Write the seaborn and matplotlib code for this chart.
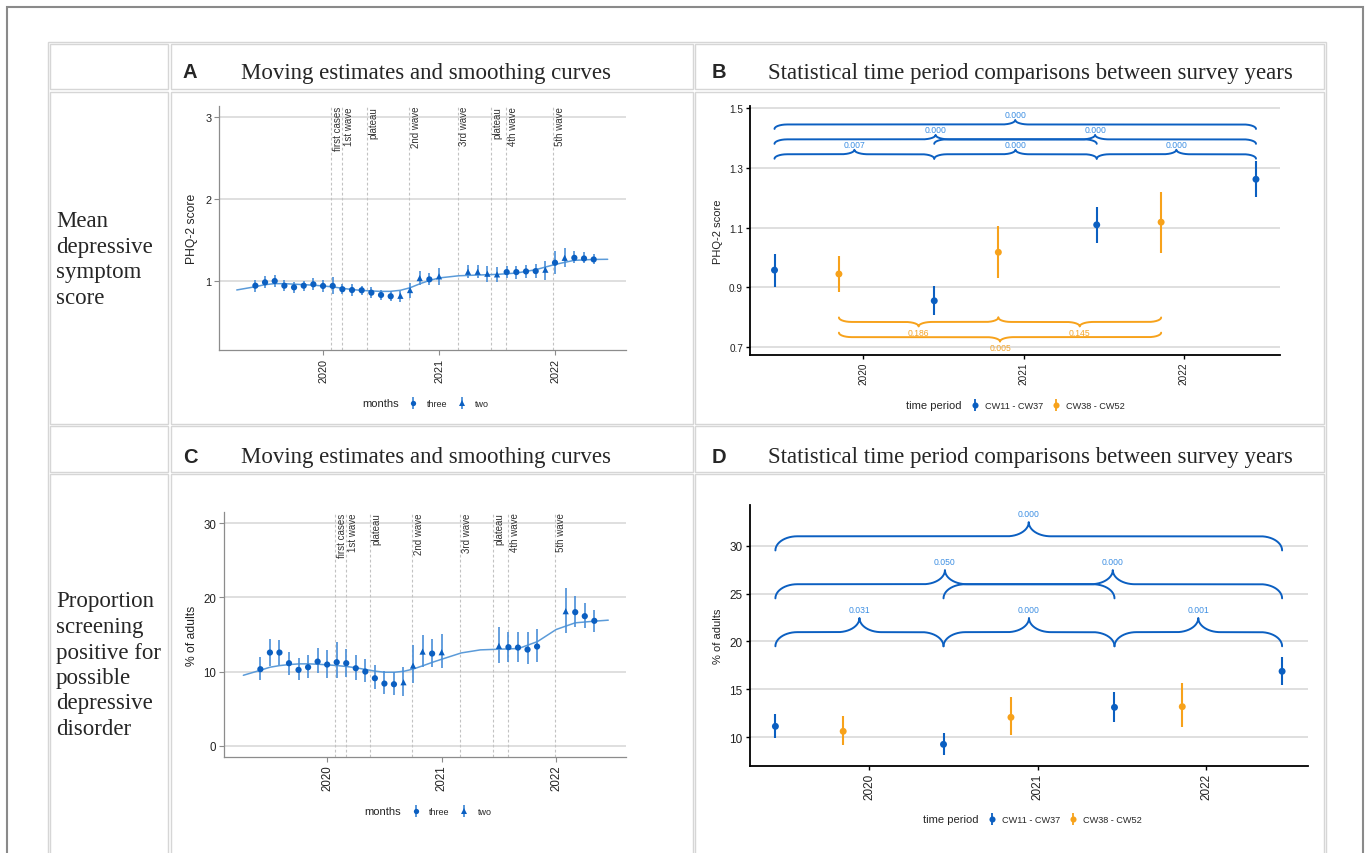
import numpy as np
import pandas as pd
import matplotlib
matplotlib.use("Agg")
import matplotlib.pyplot as plt
from matplotlib.lines import Line2D
from matplotlib.patches import Rectangle
import seaborn as sns

sns.set_theme(style="ticks")
plt.rcParams['font.family'] = ['Liberation Sans', 'DejaVu Sans']
SERIF = ['Liberation Serif', 'DejaVu Serif']

# ---------------- data ----------------
years = [2020, 2021, 2022]

# pandemic events (vertical dashed lines in A and C)
event_label = ['first cases', '1st wave', 'plateau', '2nd wave', '3rd wave', 'plateau', '4th wave', '5th wave']
event_date = ['2020-01-27', '2020-03-01', '2020-05-17', '2020-09-28', '2021-03-01', '2021-06-14', '2021-08-01', '2021-12-27']

# A: moving estimates of the mean PHQ-2 score
a_month = ['2019-06', '2019-07', '2019-08', '2019-09', '2019-10', '2019-11', '2019-12',
           '2020-01', '2020-02', '2020-03', '2020-04', '2020-05', '2020-06', '2020-07',
           '2020-08', '2020-09', '2020-10', '2020-11', '2020-12', '2021-01',
           '2021-04', '2021-05', '2021-06', '2021-07', '2021-08', '2021-09', '2021-10',
           '2021-11', '2021-12', '2022-01', '2022-02', '2022-03', '2022-04', '2022-05']
a_window = ['three'] * 15 + ['two', 'two', 'two', 'three', 'two',
                             'two', 'two', 'two', 'two', 'three', 'three', 'three',
                             'three', 'two', 'three', 'two', 'three', 'three', 'three']
a_mean = [0.943, 0.984, 1.000, 0.943, 0.923, 0.943, 0.960, 0.940, 0.940, 0.900, 0.890, 0.887,
          0.858, 0.830, 0.814, 0.820, 0.890, 1.036, 1.020, 1.057,
          1.113, 1.113, 1.089, 1.081, 1.109, 1.109, 1.117, 1.121, 1.138,
          1.223, 1.283, 1.283, 1.275, 1.263]
a_lo = [0.870, 0.911, 0.923, 0.874, 0.854, 0.883, 0.887, 0.862, 0.842, 0.838, 0.822, 0.830,
        0.794, 0.769, 0.757, 0.745, 0.794, 0.951, 0.951, 0.955,
        1.032, 1.040, 0.992, 0.992, 1.032, 1.028, 1.032, 1.036, 1.012,
        1.085, 1.174, 1.215, 1.215, 1.206]
a_hi = [1.016, 1.065, 1.073, 1.012, 0.992, 1.004, 1.032, 1.016, 1.053, 0.968, 0.960, 0.943,
        0.923, 0.891, 0.879, 0.883, 0.980, 1.117, 1.097, 1.158,
        1.194, 1.190, 1.182, 1.170, 1.186, 1.186, 1.198, 1.210, 1.250,
        1.368, 1.397, 1.364, 1.348, 1.328]
a_smooth_x = [2019.256, 2019.414, 2019.497, 2019.580, 2019.664, 2019.747, 2019.833, 2019.917,
              2020.000, 2020.083, 2020.167, 2020.250, 2020.330, 2020.414, 2020.497, 2020.580,
              2020.667, 2020.750, 2020.836, 2020.920, 2021.003, 2021.170, 2021.333, 2021.500,
              2021.667, 2021.833, 2022.000, 2022.164, 2022.330, 2022.454]
a_smooth_y = [0.891, 0.930, 0.955, 0.968, 0.968, 0.962, 0.956, 0.949, 0.940, 0.928, 0.912, 0.896,
              0.886, 0.879, 0.874, 0.874, 0.887, 0.918, 0.967, 1.008, 1.038, 1.064, 1.073, 1.081,
              1.097, 1.138, 1.202, 1.252, 1.263, 1.265]

# C: moving estimates of % screening positive
c_month = ['2019-06', '2019-07', '2019-08', '2019-09', '2019-10', '2019-11', '2019-12',
           '2020-01', '2020-02', '2020-03', '2020-04', '2020-05', '2020-06', '2020-07',
           '2020-08', '2020-09', '2020-10', '2020-11', '2020-12', '2021-01',
           '2021-07', '2021-08', '2021-09', '2021-10', '2021-11',
           '2022-02', '2022-03', '2022-04', '2022-05']
c_window = ['three'] * 15 + ['two', 'two', 'two', 'three', 'two',
                             'two', 'three', 'three', 'three', 'three',
                             'two', 'three', 'three', 'three']
c_mean = [10.32, 12.57, 12.57, 11.13, 10.23, 10.59, 11.35, 10.95, 11.26, 11.13, 10.45, 10.00,
          9.10, 8.38, 8.29, 8.56, 10.81, 12.70, 12.43, 12.61,
          13.47, 13.29, 13.24, 12.97, 13.38, 18.15, 18.02, 17.48, 16.85]
c_lo = [8.80, 10.80, 10.90, 9.60, 8.80, 9.10, 9.80, 9.19, 9.10, 9.23, 8.90, 8.56,
        7.66, 6.98, 6.80, 6.71, 8.47, 10.68, 10.59, 10.54,
        11.20, 11.35, 11.31, 11.00, 11.35, 15.27, 16.08, 15.90, 15.36]
c_hi = [12.00, 14.40, 14.30, 12.70, 11.80, 12.20, 13.20, 12.97, 14.00, 13.06, 12.30, 11.67,
        10.90, 10.10, 10.00, 10.63, 13.65, 14.95, 14.46, 15.05,
        15.95, 15.36, 15.36, 15.40, 15.77, 21.26, 20.14, 19.23, 18.33]
c_smooth_x = [2019.268, 2019.417, 2019.501, 2019.586, 2019.671, 2019.755, 2019.840, 2019.921,
              2020.006, 2020.087, 2020.172, 2020.257, 2020.338, 2020.423, 2020.504, 2020.589,
              2020.673, 2020.755, 2020.840, 2020.921, 2021.009, 2021.172, 2021.338, 2021.501,
              2021.671, 2021.837, 2022.000, 2022.166, 2022.332, 2022.455]
c_smooth_y = [9.50, 10.18, 10.59, 10.81, 10.95, 11.04, 11.04, 10.99, 10.90, 10.81, 10.68, 10.50,
              10.27, 10.05, 9.91, 9.91, 10.05, 10.36, 10.81, 11.26, 11.71, 12.52, 12.93, 13.02,
              13.11, 14.05, 15.68, 16.58, 16.80, 16.94]

# B / D: period comparisons between survey years
cmp_date = [2019.445, 2019.847, 2020.442, 2020.842, 2021.456, 2021.858, 2022.450]
cmp_period = ['CW11 - CW37', 'CW38 - CW52'] * 3 + ['CW11 - CW37']
b_mean = [0.957, 0.944, 0.854, 1.017, 1.109, 1.118, 1.262]
b_lo = [0.900, 0.883, 0.807, 0.929, 1.047, 1.013, 1.203]
b_hi = [1.011, 1.006, 0.902, 1.104, 1.170, 1.220, 1.322]
d_mean = [11.15, 10.63, 9.27, 12.09, 13.13, 13.20, 16.89]
d_lo = [9.97, 9.17, 8.19, 10.24, 11.63, 11.08, 15.46]
d_hi = [12.43, 12.23, 10.42, 14.17, 14.70, 15.67, 18.39]

# brace comparisons: start point, end point, stacking row, p-value
b_from = [0, 2, 4, 0, 2, 0, 1, 3, 1]
b_to = [2, 4, 6, 4, 6, 6, 3, 5, 5]
b_row = [0, 0, 0, 1, 1, 2, 0, 0, 1]
b_p = ['0.007', '0.000', '0.000', '0.000', '0.000', '0.000', '0.186', '0.145', '0.005']
d_from = [0, 2, 4, 0, 2, 0]
d_to = [2, 4, 6, 4, 6, 6]
d_row = [0, 0, 0, 1, 1, 2]
d_p = ['0.031', '0.000', '0.001', '0.050', '0.000', '0.000']

panel_letter = ['A', 'B', 'C', 'D']
panel_title = ['Moving estimates and smoothing curves',
               'Statistical time period comparisons between survey years',
               'Moving estimates and smoothing curves',
               'Statistical time period comparisons between survey years']
row_text = [['Mean', 'depressive', 'symptom', 'score'],
            ['Proportion', 'screening', 'positive for', 'possible', 'depressive', 'disorder']]

# ---------------- style ----------------
BLUE = '#0b5fc1'
CI_BLUE = '#4a8fd8'
CURVE = '#5b9bd9'
ORANGE = '#f7a21b'
LBL_BLUE = '#3d8fe3'
LBL_ORANGE = '#f5a52a'
PAL = {'CW11 - CW37': BLUE, 'CW38 - CW52': ORANGE}

W, H = 1370, 854
fig = plt.figure(figsize=(W / 100, H / 100), dpi=100)


def fx(x):
    return x / W


def fy(y):
    return 1 - y / H


def add_ax(left, top, right, bottom):
    return fig.add_axes([fx(left), fy(bottom), (right - left) / W, (bottom - top) / H])


def box(x0, y0, x1, y1, color, lw):
    fig.add_artist(Rectangle((fx(x0), fy(y1)), (x1 - x0) / W, (y1 - y0) / H,
                             transform=fig.transFigure, fill=False, ec=color, lw=lw))


def month_to_year(m):
    y, mo = m.split('-')
    return int(y) + (int(mo) - 1) / 12


def date_to_year(s):
    t = pd.Timestamp(s)
    return t.year + (t.dayofyear - 1) / 365


# ---------------- table frame ----------------
box(7, 8, 1363, 900, '#8a8a8a', 1.5)
box(48, 43, 1326, 900, '#d6d6d6', 1.0)
cols = [(50, 167.5), (170.5, 692.5), (695, 1324)]
rows = [(45, 90), (92.5, 424.5), (427, 472.5), (475, 900)]
for y0, y1 in rows:
    for x0, x1 in cols:
        box(x0, y0, x1, y1, '#d6d6d6', 1.0)

head_pos = [(183, 241, 78.5), (712, 768, 78.5), (183, 241, 463.3), (712, 768, 463.3)]
for letter, title, (lx, tx, base) in zip(panel_letter, panel_title, head_pos):
    fig.text(fx(lx), fy(base), letter, fontsize=14.5, fontweight='bold', va='baseline', ha='left')
    fig.text(fx(tx), fy(base), title, fontsize=16.5, family=SERIF, va='baseline', ha='left')

for lines, base in zip(row_text, [227.3, 607.5]):
    for i, line in enumerate(lines):
        fig.text(fx(56), fy(base + i * 25.5), line, fontsize=16.5, family=SERIF,
                 va='baseline', ha='left')


# ---------------- panels ----------------
def legend_handle(color, line_color, marker, ms, bar_ms):
    return (Line2D([], [], ls='none', marker='|', ms=bar_ms, mew=1.3, color=line_color),
            Line2D([], [], ls='none', marker=marker, ms=ms, color=color, mew=0))


def moving_panel(ax, months, window, mean, lo, hi, sm_x, sm_y, xlim, ylim, yticks,
                 ylabel, ylab_x, leg_xy, tick_size):
    d = pd.DataFrame({'date': [month_to_year(m) for m in months], 'mean': mean,
                      'lo': lo, 'hi': hi, 'months': window})
    for name, day in zip(event_label, event_date):
        x0 = date_to_year(day)
        ax.axvline(x0, color='#c2c2c2', lw=0.8, ls=(0, (2.5, 2)), zorder=1)
        ax.annotate(name, (x0, 1), xycoords=('data', 'axes fraction'), xytext=(1.2, 0),
                    textcoords='offset points', rotation=90, ha='left', va='top',
                    fontsize=7, color='#333333')
    sns.lineplot(x=sm_x, y=sm_y, ax=ax, color=CURVE, lw=1.1, zorder=2)
    ax.vlines(d['date'], d['lo'], d['hi'], color=CI_BLUE, lw=1.2, zorder=3)
    sns.scatterplot(data=d, x='date', y='mean', style='months',
                    markers={'three': 'o', 'two': '^'}, color=BLUE, s=20, linewidth=0,
                    ax=ax, legend=False, zorder=4)
    ax.set_xlim(xlim)
    ax.set_ylim(ylim)
    ax.set_xticks(years)
    ax.set_xticklabels([str(y) for y in years], rotation=90)
    ax.set_yticks(yticks)
    ax.grid(axis='y', color='#d6d6d6', lw=1.1)
    ax.set_axisbelow(True)
    for s in ['top', 'right']:
        ax.spines[s].set_visible(False)
    for s in ['left', 'bottom']:
        ax.spines[s].set_color('#8c8c8c')
        ax.spines[s].set_linewidth(0.9)
    ax.tick_params(axis='both', length=3.5, width=0.8, color='#8c8c8c',
                   labelsize=tick_size, labelcolor='#222222', pad=2)
    ax.set_xlabel('')
    ax.set_ylabel(ylabel, fontsize=8.7, color='#222222')
    ax.yaxis.set_label_coords(ylab_x, 0.5)
    handles = [Line2D([], [], ls='none'),
               legend_handle(BLUE, CI_BLUE, 'o', 3.8, 8),
               legend_handle(BLUE, CI_BLUE, '^', 4.2, 8)]
    leg = ax.legend(handles, ['months', 'three', 'two'], ncol=3, loc='center',
                    bbox_to_anchor=leg_xy, frameon=False, fontsize=6.5,
                    handlelength=1.0, handletextpad=1.0, columnspacing=1.1)
    leg.get_texts()[0].set_fontsize(8)


def draw_brace(ax, x0, x1, y_end, height, r_end, r_tip, color, up):
    s = 1 if up else -1
    xm = (x0 + x1) / 2
    h2 = height / 2
    t = np.linspace(0, np.pi / 2, 40)
    ex = x0 + r_end - r_end * np.cos(t)
    ey = y_end + s * h2 * np.sin(t)
    tx = xm - r_tip + r_tip * np.sin(t)
    ty = y_end + s * (height - h2 * np.cos(t))
    lx = np.concatenate([ex, tx])
    ly = np.concatenate([ey, ty])
    ax.plot(np.concatenate([lx, (2 * xm - lx)[::-1]]), np.concatenate([ly, ly[::-1]]),
            color=color, lw=1.4, solid_capstyle='round', zorder=2)
    return xm, y_end + s * height


def compare_panel(ax, mean, lo, hi, xlim, ylim, yticks, ylabel, ylab_x, leg_xy,
                  tick_size, br_from, br_to, br_row, br_p, levels, height, gap,
                  r_end, r_tip, down_levels=None):
    d = pd.DataFrame({'date': cmp_date, 'period': cmp_period, 'mean': mean, 'lo': lo, 'hi': hi})
    for a, b, r, p in zip(br_from, br_to, br_row, br_p):
        up = d['period'][a] == 'CW11 - CW37'
        base = levels[r] if up else down_levels[r]
        xm, tip = draw_brace(ax, d['date'][a], d['date'][b], base, height, r_end, r_tip,
                             BLUE if up else ORANGE, up)
        ax.text(xm, tip + (gap if up else -gap), p, ha='center',
                va='bottom' if up else 'top', fontsize=6.2,
                color=LBL_BLUE if up else LBL_ORANGE)
    ax.vlines(d['date'], d['lo'], d['hi'], colors=[PAL[p] for p in d['period']], lw=1.5, zorder=3)
    sns.scatterplot(data=d, x='date', y='mean', hue='period', palette=PAL, s=25,
                    linewidth=0, ax=ax, legend=False, zorder=4)
    ax.set_xlim(xlim)
    ax.set_ylim(ylim)
    ax.set_xticks(years)
    ax.set_xticklabels([str(y) for y in years], rotation=90)
    ax.set_yticks(yticks)
    ax.grid(axis='y', color='#d6d6d6', lw=1.1)
    ax.set_axisbelow(True)
    for s in ['top', 'right']:
        ax.spines[s].set_visible(False)
    for s in ['left', 'bottom']:
        ax.spines[s].set_color('black')
        ax.spines[s].set_linewidth(1.3)
    ax.tick_params(axis='both', length=3, width=1.0, color='black',
                   labelsize=tick_size, labelcolor='#222222', pad=2)
    ax.set_xlabel('')
    ax.set_ylabel(ylabel, fontsize=8, color='#222222')
    ax.yaxis.set_label_coords(ylab_x, 0.5)
    handles = [Line2D([], [], ls='none'),
               legend_handle(BLUE, BLUE, 'o', 4.4, 9),
               legend_handle(ORANGE, ORANGE, 'o', 4.4, 9)]
    leg = ax.legend(handles, ['time period', 'CW11 - CW37', 'CW38 - CW52'], ncol=3,
                    loc='center', bbox_to_anchor=leg_xy, frameon=False, fontsize=6.6,
                    handlelength=1.0, handletextpad=0.6, columnspacing=0.9)
    leg.get_texts()[0].set_fontsize(8)


ax_a = add_ax(219, 107, 626, 351)
moving_panel(ax_a, a_month, a_window, a_mean, a_lo, a_hi, a_smooth_x, a_smooth_y,
             (2019.103, 2022.612), (0.159, 3.134), [1, 2, 3], 'PHQ-2 score',
             -0.052, (0.486, -0.217), 7.8)

ax_c = add_ax(224, 513.3, 626, 757.7)
moving_panel(ax_c, c_month, c_window, c_mean, c_lo, c_hi, c_smooth_x, c_smooth_y,
             (2019.099, 2022.61), (-1.49, 31.5), [0, 10, 20, 30], '% of adults',
             -0.065, (0.485, -0.222), 8.3)

ax_b = add_ax(750, 107, 1280, 356)
compare_panel(ax_b, b_mean, b_lo, b_hi, (2019.292, 2022.6), (0.672, 1.508),
              [0.7, 0.9, 1.1, 1.3, 1.5], 'PHQ-2 score', -0.051, (0.487, -0.2), 7.2,
              b_from, b_to, b_row, b_p, [1.331, 1.381, 1.431], 0.03, 0.004,
              0.08, 0.085, down_levels=[0.798, 0.747])

ax_d = add_ax(749.6, 505.7, 1308.4, 767.3)
compare_panel(ax_d, d_mean, d_lo, d_hi, (2019.292, 2022.606), (6.98, 34.27),
              [10, 15, 20, 25, 30], '% of adults', -0.047, (0.493, -0.2015), 8.5,
              d_from, d_to, d_row, d_p, [19.5, 24.5, 29.5], 2.95, 0.45, 0.13, 0.13)

fig.savefig('out.png', dpi=100)
